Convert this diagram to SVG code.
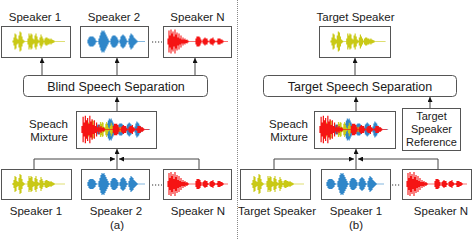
<svg xmlns="http://www.w3.org/2000/svg" width="474" height="240" viewBox="0 0 474 240">
<style>
text{font-family:"Liberation Sans",Arial,sans-serif;fill:#1a1a1a}
.lbl{font-size:11.5px;text-anchor:middle}
.sep{font-size:12.5px;text-anchor:middle}
.mix{font-size:11.5px;text-anchor:end}
.box{fill:#fff;stroke:#555;stroke-width:1}
.rbox{fill:#fff;stroke:#555;stroke-width:1}
.con{fill:none;stroke:#444;stroke-width:1}
.dots{fill:none;stroke:#333;stroke-width:1.2;stroke-dasharray:1.2 1.8}
.y{stroke:#c9c916;stroke-width:1.1;fill:none}
.b{stroke:#2f86c9;stroke-width:1.1;fill:none}
.r{stroke:#f51414;stroke-width:1.1;fill:none}
.cl{stroke-width:0.6}
</style>
<defs>
<marker id="ah" viewBox="0 0 6 6" refX="6" refY="3" markerWidth="5" markerHeight="5" orient="auto" markerUnits="userSpaceOnUse">
<path d="M0 0L6 3L0 6z" fill="#111"/>
</marker>
<g id="wy">
<path class="y cl" d="M0 0H52"/>
<path class="y" d="M0 -1V1M1 -4V4M2 -8V8M3 -7V7M4 -3V3M5 -2V2M6 -6V6M7 -10V10M8 -9V9M9 -5V5M10 -2V2M11 -1V1M15 -3V3M16 -8V8M17 -6V6M18 -8V8M19 -7V7M20 -3V3M21 -2V2M22 -6V6M23 -8V8M24 -5V5M25 -2V2M26 -1V1M27 -4V4M28 -7V7M29 -5V5M30 -3V3M31 -1V1M32 -3V3M33 -4V4M34 -4V4M35 -3V3M36 -3V3M37 -2V2M38 -3V3M39 -2V2M40 -1.5V1.5M41 -1V1"/>
</g>
<g id="wb">
<path class="b cl" d="M0 0H57"/>
<path class="b" d="M0 -2V2M1 -4V4M2 -5V5M3 -5V5M4 -5V5M5 -5V5M6 -4V4M7 -3V3M8 -1V1M11 -3V3M12 -6V6M13 -9V9M14 -11V11M15 -10V10M16 -11V11M17 -9V9M18 -7V7M19 -5V5M20 -3V3M21 -1V1M23 -3V3M24 -5V5M25 -6V6M26 -6V6M27 -6V6M28 -5V5M29 -4V4M30 -2V2M32 -2V2M33 -5V5M34 -6V6M35 -7V7M36 -6V6M37 -5V5M38 -3V3M39 -1V1M41 -3V3M42 -6V6M43 -8V8M44 -7V7M45 -6V6M46 -4V4M47 -3V3M48 -2V2M49 -1V1"/>
</g>
<g id="wr">
<path class="r cl" d="M0 0H60"/>
<path class="r" d="M0 -3V3M1 -11V11M2 -6V6M3 -12V12M4 -8V8M5 -10V10M6 -5V5M7 -12V12M8 -7V7M9 -9V9M10 -4V4M11 -8V8M12 -3V3M13 -6V6M14 -2V2M15 -4V4M16 -2V2M17 -3V3M18 -1.5V1.5M19 -2V2M20 -1V1M28 -3V3M29 -5V5M30 -5V5M31 -5V5M32 -4V4M33 -2V2M35 -2V2M36 -3V3M37 -4V4M38 -3V3M39 -3V3M40 -1V1M42 -2V2M43 -3V3M44 -3V3M45 -4V4M46 -2V2M47 -1V1M49 -1V1M50 -3V3M51 -3V3M52 -3V3M53 -2V2M54 -2V2M55 -1V1"/>
</g>
<g id="wm">
<use href="#wb" transform="translate(14 0) scale(0.95 1)"/>
<use href="#wy" transform="translate(4 0) scale(0.9 0.95)"/>
<use href="#wr" transform="translate(0 0) scale(1.12 1.15)"/>
</g>
</defs>
<rect width="474" height="240" fill="#fff"/>

<g id="connectors">
<path class="con" d="M42 75V58" marker-end="url(#ah)"/>
<path class="con" d="M117 75V58" marker-end="url(#ah)"/>
<path class="con" d="M195 75V58" marker-end="url(#ah)"/>
<path class="con" d="M117 111V97" marker-end="url(#ah)"/>
<path class="con" d="M117 169V149" marker-end="url(#ah)"/>
<path class="con" d="M34 169V159H115" marker-end="url(#ah)"/>
<path class="con" d="M199 169V159H119" marker-end="url(#ah)"/>
<path class="con" d="M355 75V58" marker-end="url(#ah)"/>
<path class="con" d="M356 111V97" marker-end="url(#ah)"/>
<path class="con" d="M430 108V97" marker-end="url(#ah)"/>
<path class="con" d="M356 169V149" marker-end="url(#ah)"/>
<path class="con" d="M274 169V159H354" marker-end="url(#ah)"/>
<path class="con" d="M438 169V159H358" marker-end="url(#ah)"/>
<path class="dots" d="M152 42H162M152 185H162M392 185H401"/>
<path d="M237.5 0V240" fill="none" stroke="#888" stroke-width="1" stroke-dasharray="1 1"/>
</g>

<g id="a-out-speaker1">
<text class="lbl" x="35" y="21">Speaker 1</text>
<rect class="box" x="1.5" y="26.5" width="69" height="31"/>
<use href="#wy" x="13" y="41.5"/>
</g>
<g id="a-out-speaker2">
<text class="lbl" x="114" y="21">Speaker 2</text>
<rect class="box" x="80.5" y="26.5" width="68" height="31"/>
<use href="#wb" x="88" y="41.5"/>
</g>
<g id="a-out-speakerN">
<text class="lbl" x="197.5" y="21">Speaker N</text>
<rect class="box" x="163.5" y="26.5" width="68" height="31"/>
<use href="#wr" x="168" y="41.5"/>
</g>
<g id="a-bss">
<rect class="rbox" x="23.5" y="75.5" width="184" height="21" rx="4"/>
<text class="sep" x="116" y="90.5">Blind Speech Separation</text>
</g>
<g id="a-mixture">
<text class="mix" x="68" y="128">Speach</text>
<text class="mix" x="68" y="141">Mixture</text>
<rect class="box" x="76.5" y="111.5" width="80" height="37"/>
<use href="#wm" x="82" y="129.5"/>
</g>
<g id="a-in-speaker1">
<rect class="box" x="1.5" y="169.5" width="70" height="30"/>
<use href="#wy" x="13" y="184"/>
<text class="lbl" x="36" y="215">Speaker 1</text>
</g>
<g id="a-in-speaker2">
<rect class="box" x="81.5" y="169.5" width="68" height="30"/>
<use href="#wb" x="88" y="184"/>
<text class="lbl" x="116" y="215">Speaker 2</text>
</g>
<g id="a-in-speakerN">
<rect class="box" x="163.5" y="169.5" width="68" height="30"/>
<use href="#wr" x="168" y="184"/>
<text class="lbl" x="198" y="215">Speaker N</text>
</g>
<text class="lbl" x="117" y="229">(a)</text>

<g id="b-out-target">
<text class="lbl" x="355.5" y="21">Target Speaker</text>
<rect class="box" x="319.5" y="26.5" width="71" height="31"/>
<use href="#wy" transform="translate(331 41.5) scale(1.05 1)"/>
</g>
<g id="b-tss">
<rect class="rbox" x="263.5" y="75.5" width="193" height="21" rx="4"/>
<text class="sep" x="360" y="90.5">Target Speech Separation</text>
</g>
<g id="b-mixture">
<text class="mix" x="308" y="128">Speach</text>
<text class="mix" x="308" y="141">Mixture</text>
<rect class="box" x="314.5" y="111.5" width="81" height="37"/>
<use href="#wm" x="320" y="129.5"/>
</g>
<g id="b-reference">
<rect class="box" x="402.5" y="108.5" width="58" height="42"/>
<text class="lbl" x="431.5" y="120" style="font-size:11px">Target</text>
<text class="lbl" x="431.5" y="133" style="font-size:11px">Speaker</text>
<text class="lbl" x="431.5" y="146" style="font-size:11px">Reference</text>
</g>
<g id="b-in-target">
<rect class="box" x="240.5" y="169.5" width="70" height="30"/>
<use href="#wy" x="252" y="184"/>
<text class="lbl" x="277" y="215">Target Speaker</text>
</g>
<g id="b-in-speaker1">
<rect class="box" x="321.5" y="169.5" width="69" height="30"/>
<use href="#wb" x="327" y="184"/>
<text class="lbl" x="356" y="215">Speaker 1</text>
</g>
<g id="b-in-speakerN">
<rect class="box" x="402.5" y="169.5" width="69" height="30"/>
<use href="#wr" x="407" y="184"/>
<text class="lbl" x="441" y="215">Speaker N</text>
</g>
<text class="lbl" x="356" y="229">(b)</text>
</svg>
